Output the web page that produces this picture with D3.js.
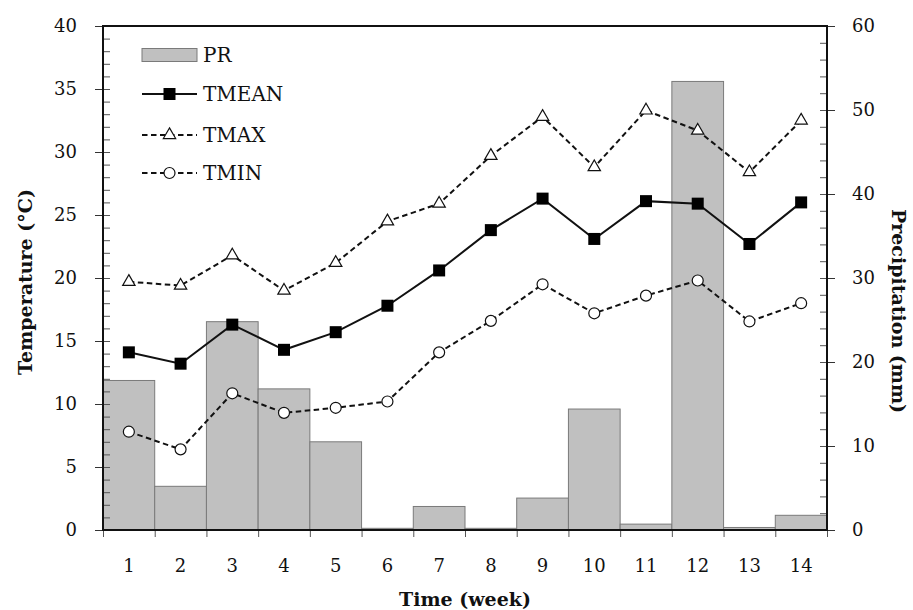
<!DOCTYPE html>
<html><head><meta charset="utf-8">
<script src="https://cdn.jsdelivr.net/npm/d3@7"></script>
<style>body{margin:0;background:#fff}svg{display:block}</style>
</head><body>
<svg id="c" width="913" height="610"></svg>
<script>
const weeks = ["1","2","3","4","5","6","7","8","9","10","11","12","13","14"];
const PR    = [17.8, 5.2, 24.8, 16.8, 10.5, 0.2, 2.8, 0.2, 3.8, 14.4, 0.7, 53.4, 0.3, 1.75];
const TMEAN = [14.1, 13.2, 16.3, 14.3, 15.7, 17.8, 20.6, 23.8, 26.3, 23.1, 26.1, 25.9, 22.7, 26.0];
const TMAX  = [19.7, 19.4, 21.8, 19.0, 21.2, 24.5, 25.9, 29.7, 32.8, 28.8, 33.3, 31.7, 28.4, 32.5];
const TMIN  = [7.8, 6.4, 10.85, 9.3, 9.7, 10.2, 14.1, 16.6, 19.5, 17.2, 18.6, 19.8, 16.55, 18.0];
const leftTicks = [0,5,10,15,20,25,30,35,40];
const rightTicks = [0,10,20,30,40,50,60];
const legendItems = ["PR","TMEAN","TMAX","TMIN"];

const svg = d3.select("#c");
const L = 103, R = 827, T = 26, B = 530;
const FONT = "'DejaVu Serif', serif";

const x = d3.scaleBand().domain(weeks).range([L, R]).padding(0);
const xEdge = d3.scaleLinear().domain([0, weeks.length]).range([L, R]);
const yL = d3.scaleLinear().domain([0, 40]).range([B, T]);
const yR = d3.scaleLinear().domain([0, 60]).range([B, T]);

// bars
svg.append("g").selectAll("rect").data(PR).join("rect")
  .attr("x", (d,i) => x(weeks[i]))
  .attr("width", x.bandwidth())
  .attr("y", d => yR(d))
  .attr("height", d => B - yR(d))
  .attr("fill", "#c0c0c0").attr("stroke", "#7a7a7a").attr("stroke-width", 1);

// axes
function styleAxis(g, fontSize) {
  g.select(".domain").remove();
  g.selectAll("text").attr("font-family", FONT).attr("font-size", fontSize).attr("fill", "#111");
}
const minorL = d3.range(0, 41, 1);
const minorR = d3.range(0, 61, 2);
svg.append("g").attr("transform", `translate(${L},0)`)
  .call(d3.axisLeft(yL).tickValues(minorL).tickSize(-7).tickFormat(""))
  .call(g => { g.select(".domain").remove(); g.selectAll("line").attr("stroke", "#555"); });
svg.append("g").attr("transform", `translate(${L},0)`)
  .call(d3.axisLeft(yL).tickValues(leftTicks).tickSize(8).tickPadding(18))
  .call(g => { styleAxis(g, 18); g.selectAll("line").attr("stroke", "#333"); });
svg.append("g").attr("transform", `translate(${R},0)`)
  .call(d3.axisRight(yR).tickValues(minorR).tickSize(-7).tickFormat(""))
  .call(g => { g.select(".domain").remove(); g.selectAll("line").attr("stroke", "#555"); });
svg.append("g").attr("transform", `translate(${R},0)`)
  .call(d3.axisRight(yR).tickValues(rightTicks).tickSize(8).tickPadding(17))
  .call(g => { styleAxis(g, 18); g.selectAll("line").attr("stroke", "#333"); });
svg.append("g").attr("transform", `translate(0,${B})`)
  .call(d3.axisBottom(xEdge).tickValues(d3.range(0, weeks.length + 1)).tickSize(7).tickFormat(""))
  .call(g => { g.select(".domain").remove(); g.selectAll("line").attr("stroke", "#555"); });
svg.append("g").attr("transform", `translate(0,${B})`)
  .call(d3.axisBottom(x).tickSize(0).tickPadding(29))
  .call(g => styleAxis(g, 18));

// frame
svg.append("rect").attr("x", L).attr("y", T).attr("width", R - L).attr("height", B - T)
  .attr("fill", "none").attr("stroke", "#111").attr("stroke-width", 2);

// lines
const cx = i => x(weeks[i]) + x.bandwidth() / 2;
const line = d3.line().x((d,i) => cx(i)).y(d => yL(d));
svg.append("path").datum(TMAX).attr("d", line).attr("fill", "none")
  .attr("stroke", "#111").attr("stroke-width", 2).attr("stroke-dasharray", "5.5,3.5");
svg.append("path").datum(TMIN).attr("d", line).attr("fill", "none")
  .attr("stroke", "#111").attr("stroke-width", 2).attr("stroke-dasharray", "5.5,3.5");
svg.append("path").datum(TMEAN).attr("d", line).attr("fill", "none")
  .attr("stroke", "#111").attr("stroke-width", 2);

const tri = d3.symbol().type(d3.symbolTriangle).size(66);
function triangles(g, data, yf) {
  g.selectAll("path.m").data(data).join("path").attr("class", "m")
    .attr("d", tri).attr("transform", (d,i) => `translate(${cx(i)},${yf(d)})`)
    .attr("fill", "#fff").attr("stroke", "#111").attr("stroke-width", 1.2);
}
function circles(g, data, yf) {
  g.selectAll("circle").data(data).join("circle")
    .attr("cx", (d,i) => cx(i)).attr("cy", d => yf(d)).attr("r", 5.5)
    .attr("fill", "#fff").attr("stroke", "#111").attr("stroke-width", 1.2);
}
function squares(g, data, yf) {
  g.selectAll("rect").data(data).join("rect")
    .attr("x", (d,i) => cx(i) - 6).attr("y", d => yf(d) - 6)
    .attr("width", 12).attr("height", 12).attr("fill", "#000");
}
triangles(svg.append("g"), TMAX, yL);
circles(svg.append("g"), TMIN, yL);
squares(svg.append("g"), TMEAN, yL);

// legend
const lg = svg.append("g");
const lx0 = 142, lx1 = 197, lmid = 169.5;
const rowY = [55, 94, 135, 173];
lg.append("rect").attr("x", lx0).attr("y", rowY[0] - 6.5).attr("width", lx1 - lx0).attr("height", 13)
  .attr("fill", "#c0c0c0").attr("stroke", "#7a7a7a").attr("stroke-width", 1);
lg.append("line").attr("x1", lx0).attr("x2", lx1).attr("y1", rowY[1]).attr("y2", rowY[1])
  .attr("stroke", "#111").attr("stroke-width", 2);
lg.append("rect").attr("x", lmid - 6).attr("y", rowY[1] - 6).attr("width", 12).attr("height", 12).attr("fill", "#000");
[2,3].forEach(k => lg.append("line").attr("x1", lx0).attr("x2", lx1).attr("y1", rowY[k]).attr("y2", rowY[k])
  .attr("stroke", "#111").attr("stroke-width", 2).attr("stroke-dasharray", "5.5,3.5"));
lg.append("path").attr("d", tri).attr("transform", `translate(${lmid},${rowY[2]})`)
  .attr("fill", "#fff").attr("stroke", "#111").attr("stroke-width", 1.2);
lg.append("circle").attr("cx", lmid).attr("cy", rowY[3]).attr("r", 5.5)
  .attr("fill", "#fff").attr("stroke", "#111").attr("stroke-width", 1.2);
lg.selectAll("text").data(legendItems).join("text")
  .attr("x", 203).attr("y", (d,i) => rowY[i] + 7)
  .attr("font-family", FONT).attr("font-size", 20).attr("fill", "#111").text(d => d);

// titles
svg.append("text").attr("x", (L + R) / 2).attr("y", 606).attr("text-anchor", "middle")
  .attr("font-family", FONT).attr("font-weight", "bold").attr("font-size", 19).attr("fill", "#111")
  .text("Time (week)");
svg.append("text").attr("transform", "translate(32,282) rotate(-90)").attr("text-anchor", "middle")
  .attr("font-family", FONT).attr("font-weight", "bold").attr("font-size", 19).attr("fill", "#111")
  .text("Temperature (°C)");
svg.append("text").attr("transform", "translate(892,311) rotate(90)").attr("text-anchor", "middle")
  .attr("font-family", FONT).attr("font-weight", "bold").attr("font-size", 19).attr("fill", "#111")
  .text("Precipitation (mm)");
</script>
</body></html>
